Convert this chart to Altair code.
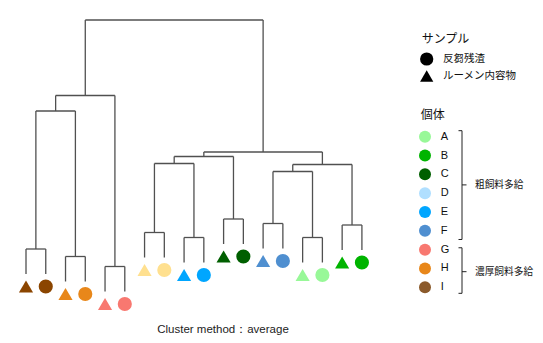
import altair as alt
import pandas as pd

# ---------------- data ----------------
individuals = ["I", "H", "G", "D", "E", "C", "F", "A", "B"]          # leaf-pair order
pair_heights = [0.82, 0.67, 0.47, 1.15, 1.05, 1.42, 1.33, 1.05, 1.30]  # merge height of each pair
merges = [("I", "H", 3.58), ("IH", "G", 3.89),
          ("D", "E", 2.53), ("DE", "C", 2.67),
          ("F", "A", 2.37), ("FA", "B", 2.51),
          ("DEC", "FAB", 2.76), ("IHG", "DECFAB", 5.40)]
pair_samples = ["ルーメン内容物", "反芻残渣"]   # left leaf, right leaf of each pair
hang = 0.5
marker_drop = 0.25

point_color_names = ["A", "B", "C", "D", "E", "F", "G", "H", "I"]
point_color_values = ["#98F898", "#00B400", "#005F00", "#FFE08F", "#00A6FF",
                      "#4F8FD0", "#F87870", "#E8871A", "#8B4500"]

sample_legend_labels = ["反芻残渣", "ルーメン内容物"]
sample_legend_shapes = ["circle", "triangle-up"]
indiv_legend_labels = ["A", "B", "C", "D", "E", "F", "G", "H", "I"]
indiv_legend_colors = ["#98F898", "#00B400", "#005F00", "#B0DFFF", "#00A6FF",
                       "#4F8FD0", "#F87870", "#E8871A", "#8B5A2B"]
group_labels = ["粗飼料多給", "濃厚飼料多給"]
group_top_rows = [-0.32, 5.9]
group_bottom_rows = [5.46, 8.32]
group_mid_rows = [2.56, 7.17]

caption = "Cluster method：average"

# ---------------- build dendrogram ----------------
segs = []
pts = []
nodes = {}
i = 0
for ind, ph in zip(individuals, pair_heights):
    x1, x2 = i, i + 1
    base = ph - hang
    segs += [(x1, base, x1, ph), (x2, base, x2, ph), (x1, ph, x2, ph)]
    pts += [(x1, base - marker_drop, ind, pair_samples[0]),
            (x2, base - marker_drop, ind, pair_samples[1])]
    nodes[ind] = ((x1 + x2) / 2, ph)
    i += 2
for a, b, h in merges:
    xa, ha = nodes[a]
    xb, hb = nodes[b]
    segs += [(xa, ha, xa, h), (xb, hb, xb, h), (xa, h, xb, h)]
    nodes[a + b] = ((xa + xb) / 2, h)

seg_df = pd.DataFrame(segs, columns=["x", "y", "x2", "y2"])
pt_df = pd.DataFrame(pts, columns=["x", "y", "個体", "サンプル"])

W, H = 527, 327
xs = alt.Scale(domain=[-0.911, 25.76], range=[0, W], nice=False, zero=False)
ys = alt.Scale(domain=[-0.9, 5.64], range=[H, 0], nice=False, zero=False)

lines = alt.Chart(seg_df).mark_rule(color="#505050", strokeWidth=1.3).encode(
    x=alt.X("x:Q", scale=xs, axis=None),
    y=alt.Y("y:Q", scale=ys, axis=None),
    x2="x2:Q", y2="y2:Q")

points = alt.Chart(pt_df).mark_point(filled=True, opacity=1, size=200).encode(
    x=alt.X("x:Q", scale=xs, axis=None),
    y=alt.Y("y:Q", scale=ys, axis=None),
    color=alt.Color("個体:N", scale=alt.Scale(domain=point_color_names, range=point_color_values), legend=None),
    shape=alt.Shape("サンプル:N", scale=alt.Scale(domain=sample_legend_labels, range=sample_legend_shapes), legend=None))

cap = alt.Chart(pd.DataFrame({"t": [caption]})).mark_text(
    fontSize=11.5, font="Liberation Sans", color="#222222", align="center", baseline="middle").encode(
    x=alt.value(215), y=alt.value(322), text="t:N")

JP = "Noto Sans CJK JP"

# sample legend
samp_df = pd.DataFrame({"label": sample_legend_labels, "row": [0, 1]})
samp_y = alt.Scale(domain=[0, 1], range=[51, 68])
samp_title = alt.Chart(pd.DataFrame({"t": ["サンプル"]})).mark_text(
    fontSize=12, font=JP, align="left", baseline="middle", color="#111111").encode(
    x=alt.value(413.7), y=alt.value(31.3), text="t:N")
samp_pts = alt.Chart(samp_df).mark_point(filled=True, opacity=1, size=175, color="black").encode(
    x=alt.value(418.7), y=alt.Y("row:Q", scale=samp_y, axis=None),
    shape=alt.Shape("label:N", scale=alt.Scale(domain=sample_legend_labels, range=sample_legend_shapes), legend=None))
samp_txt = alt.Chart(samp_df).mark_text(fontSize=10.5, font=JP, align="left", baseline="middle", color="#111111").encode(
    x=alt.value(435), y=alt.Y("row:Q", scale=samp_y, axis=None), text="label:N")

# individual legend
ind_df = pd.DataFrame({"label": indiv_legend_labels, "row": list(range(9))})
ind_y = alt.Scale(domain=[0, 8], range=[128.7, 279.3])
ind_title = alt.Chart(pd.DataFrame({"t": ["個体"]})).mark_text(
    fontSize=12, font=JP, align="center", baseline="middle", color="#111111").encode(
    x=alt.value(424.7), y=alt.value(107), text="t:N")
ind_pts = alt.Chart(ind_df).mark_point(filled=True, opacity=1, size=144).encode(
    x=alt.value(417), y=alt.Y("row:Q", scale=ind_y, axis=None),
    color=alt.Color("label:N", scale=alt.Scale(domain=indiv_legend_labels, range=indiv_legend_colors), legend=None))
ind_txt = alt.Chart(ind_df).mark_text(fontSize=11, font="Liberation Sans", align="left", baseline="middle", color="#111111").encode(
    x=alt.value(432.7), y=alt.Y("row:Q", scale=ind_y, axis=None), text="label:N")

grp_df = pd.DataFrame({"label": group_labels, "top": group_top_rows,
                       "bot": group_bottom_rows, "mid": group_mid_rows})
br_v = alt.Chart(grp_df).mark_rule(color="#222222", strokeWidth=1).encode(
    x=alt.value(454), y=alt.Y("top:Q", scale=ind_y, axis=None), y2="bot:Q")
br_t = alt.Chart(grp_df).mark_rule(color="#222222", strokeWidth=1).encode(
    x=alt.value(450.5), x2=alt.value(454), y=alt.Y("top:Q", scale=ind_y, axis=None))
br_b = alt.Chart(grp_df).mark_rule(color="#222222", strokeWidth=1).encode(
    x=alt.value(450.5), x2=alt.value(454), y=alt.Y("bot:Q", scale=ind_y, axis=None))
br_m = alt.Chart(grp_df).mark_rule(color="#222222", strokeWidth=1).encode(
    x=alt.value(454), x2=alt.value(458.5), y=alt.Y("mid:Q", scale=ind_y, axis=None))
grp_txt = alt.Chart(grp_df).mark_text(fontSize=9.7, font=JP, align="left", baseline="middle", color="#111111").encode(
    x=alt.value(467), y=alt.Y("mid:Q", scale=ind_y, axis=None), text="label:N")

chart = alt.layer(lines, points, cap, samp_title, samp_pts, samp_txt,
                  ind_title, ind_pts, ind_txt, br_v, br_t, br_b, br_m, grp_txt).resolve_scale(
    x="independent", y="independent", color="independent", shape="independent"
).properties(width=W, height=H, padding=0, autosize="none").configure_view(stroke=None)

chart.save("out.html", embed_options={"renderer": "svg", "actions": False})
